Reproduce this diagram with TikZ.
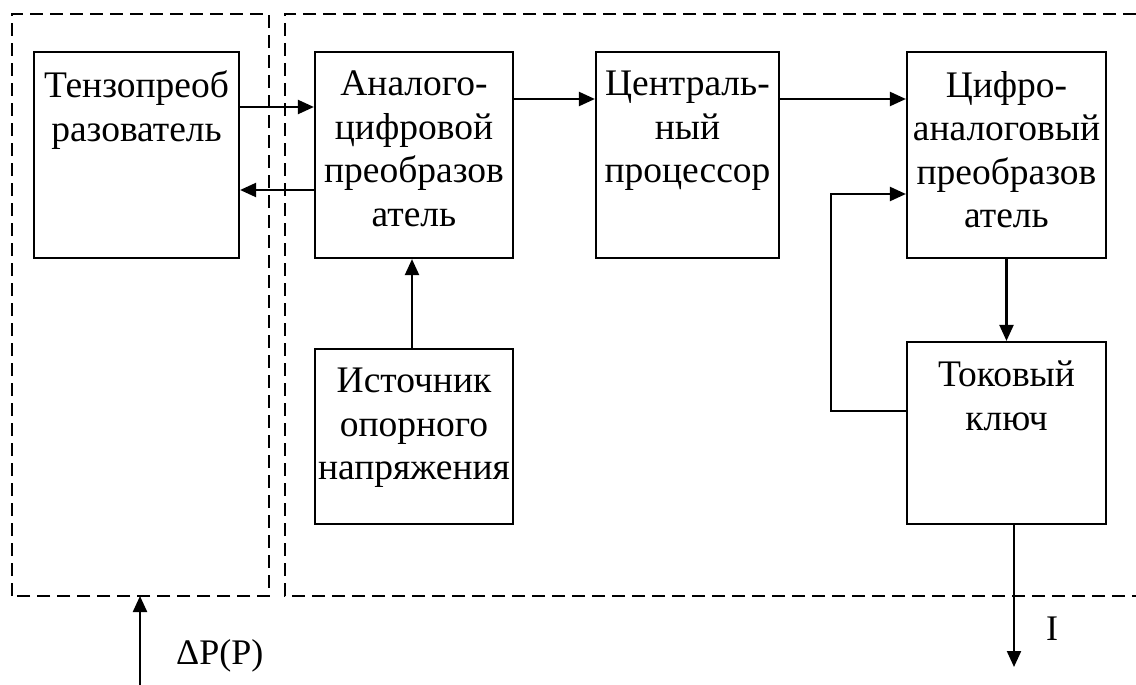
\documentclass[tikz,border=0pt]{standalone}
\usepackage{fontspec}
\setmainfont{Liberation Serif}
\usetikzlibrary{arrows.meta}
\begin{document}
\begin{tikzpicture}[x=1pt,y=-1pt,
  blk/.style={draw, line width=2.2pt, inner sep=0pt},
  txt/.style={anchor=north, align=center, inner sep=0pt, yshift=-20pt, font=\fontsize{37.5}{43.5}\selectfont},
  lbl/.style={inner sep=0pt, font=\fontsize{36}{43}\selectfont},
  conn/.style={line width=2.2pt, -{Triangle[length=16pt,width=14pt]}},
  frame/.style={line width=2.4pt, dash pattern=on 13pt off 7pt}]
\useasboundingbox (0,0) rectangle (1136,685);

% dashed frames
\draw[frame] (12,596) -- (12,14) -- (269,14) -- (269,596) -- cycle;
\draw[frame] (1136,14) -- (285,14) -- (285,596) -- (1136,596);

% blocks
\node[blk, minimum width=205pt, minimum height=206pt] (tenzo) at (136.5,155) {};
\node[blk, minimum width=198pt, minimum height=206pt] (adc) at (414,155) {};
\node[blk, minimum width=183pt, minimum height=206pt] (cpu) at (687.5,155) {};
\node[blk, minimum width=199pt, minimum height=206pt] (dac) at (1006.5,155) {};
\node[blk, minimum width=198pt, minimum height=175pt] (ion) at (414,436.5) {};
\node[blk, minimum width=199pt, minimum height=182pt] (key) at (1006.5,433) {};

% texts
\node[txt] (tenzo-t) at (tenzo.north) {Тензопреоб\\разователь};
\node[txt] (adc-t) at (adc.north) {Аналого-\\цифровой\\преобразов\\атель};
\node[txt] (cpu-t) at (cpu.north) {Централь-\\ный\\процессор};
\node[txt] (dac-t) at (dac.north) {Цифро-\\аналоговый\\преобразов\\атель};
\node[txt] (ion-t) at (ion.north) {Источник\\опорного\\напряжения};
\node[txt] (key-t) at (key.north) {Токовый\\ключ};

% connectors
\draw[conn] ([yshift=48pt]tenzo.east) -- ([yshift=48pt]adc.west);
\draw[conn] ([yshift=-35pt]adc.west) -- ([yshift=-35pt]tenzo.east);
\draw[conn] ([yshift=56pt]adc.east) -- ([yshift=56pt]cpu.west);
\draw[conn] ([yshift=56pt]cpu.east) -- ([yshift=56pt]dac.west);
\draw[conn] ([xshift=-2pt]ion.north) -- ([xshift=-2pt]adc.south);
\draw[conn] (dac.south) -- (key.north);
\draw[conn] ([yshift=22pt]key.west) -- ++(-75,0) |- ([yshift=-39pt]dac.west);

\coordinate (out) at (1014,667);
\draw[conn] (key.south -| out) -- (out);
\coordinate (pin) at (140,685);
\coordinate (pend) at (140,596);
\draw[conn] (pin) -- (pend);

% labels
\node[lbl, anchor=base west] (dp) at (176,664) {ΔP(P)};
\node[lbl, anchor=base] (ilab) at (1052,640) {I};
\end{tikzpicture}
\end{document}
